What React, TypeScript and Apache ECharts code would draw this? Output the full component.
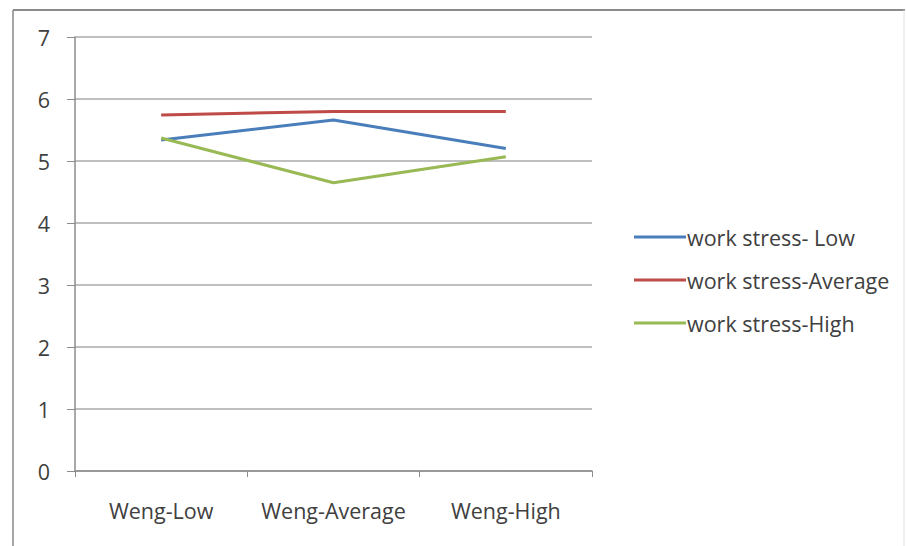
import React, { useEffect, useRef } from "react";
import * as echarts from "echarts";

const categories = ["Weng-Low", "Weng-Average", "Weng-High"];
const stressLow = [5.34, 5.66, 5.2];
const stressAverage = [5.74, 5.8, 5.8];
const stressHigh = [5.37, 4.65, 5.07];
const seriesNames = ["work stress- Low", "work stress-Average", "work stress-High"];
const seriesColors = ["#4a7ebb", "#be4b48", "#98b954"];

const FONT = "Open Sans";
const FONT_SIZE = 21.5;
const TEXT_COLOR = "#404040";

export default function App() {
  const ref = useRef<HTMLDivElement>(null);

  useEffect(() => {
    document.body.style.margin = "0";
    if (!ref.current) return;
    const chart = echarts.init(ref.current, undefined, { renderer: "svg" });
    const values = [stressLow, stressAverage, stressHigh];
    chart.setOption({
      animation: false,
      backgroundColor: "#ffffff",
      textStyle: { fontFamily: FONT },
      graphic: [
        { type: "line", shape: { x1: 13, y1: 10, x2: 13, y2: 546 }, style: { stroke: "#a6a6a6", lineWidth: 2 } },
        { type: "line", shape: { x1: 13, y1: 10, x2: 905, y2: 10 }, style: { stroke: "#8c8c8c", lineWidth: 2 } },
        { type: "line", shape: { x1: 904, y1: 10, x2: 904, y2: 546 }, style: { stroke: "#e0e0e0", lineWidth: 1 } },
      ],
      grid: { left: 75, right: 314, top: 37, bottom: 75 },
      legend: {
        orient: "vertical",
        left: 629,
        top: 221,
        itemWidth: 52,
        itemHeight: 3,
        itemGap: 21,
        icon: "rect",
        textStyle: { fontFamily: FONT, fontSize: FONT_SIZE, color: TEXT_COLOR, padding: [0, 0, 0, -4] },
        data: seriesNames,
      },
      xAxis: {
        type: "category",
        data: categories,
        boundaryGap: true,
        axisLine: { lineStyle: { color: "#8c8c8c", width: 1.5 } },
        axisTick: { show: true, length: 6, lineStyle: { color: "#8c8c8c" } },
        axisLabel: {
          interval: 0,
          hideOverlap: false,
          fontFamily: FONT,
          fontSize: FONT_SIZE,
          color: TEXT_COLOR,
          margin: 28,
        },
      },
      yAxis: {
        type: "value",
        min: 0,
        max: 7,
        interval: 1,
        axisLine: { show: true, lineStyle: { color: "#8c8c8c", width: 1.5 } },
        axisTick: { show: true, length: 8, lineStyle: { color: "#8c8c8c" } },
        axisLabel: { fontFamily: FONT, fontSize: FONT_SIZE, color: TEXT_COLOR, margin: 25 },
        splitLine: { lineStyle: { color: "#bfbfbf", width: 2 } },
      },
      series: values.map((v, i) => ({
        name: seriesNames[i],
        type: "line",
        data: v,
        showSymbol: false,
        symbol: "none",
        lineStyle: { color: seriesColors[i], width: 3 },
        itemStyle: { color: seriesColors[i] },
      })),
    });
    return () => chart.dispose();
  }, []);

  return <div ref={ref} style={{ width: 906, height: 546 }} />;
}
